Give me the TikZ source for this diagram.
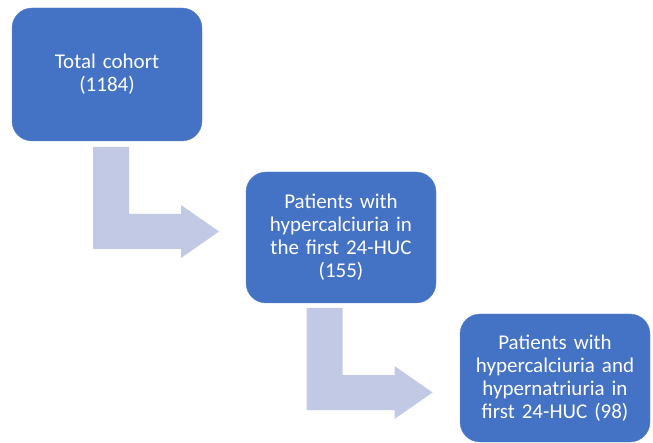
\documentclass[tikz,border=0pt]{standalone}
\usepackage{fontspec}
\setmainfont{Carlito}
\usepackage{tikz}
\usetikzlibrary{positioning}

\definecolor{boxblue}{RGB}{68,114,196}
\definecolor{arrowblue}{RGB}{193,201,229}

\tikzset{
    stagebox/.style={fill=boxblue, draw=boxblue!85!white, rounded corners=20pt,
        minimum width=190pt, text width=180pt, align=center, text=white,
        font=\fontsize{21}{23}\selectfont},
    bentarrow/.style={fill=arrowblue, draw=none}
}

\begin{document}
\begin{tikzpicture}[x=1pt, y=-1pt]
    \useasboundingbox (0, 0) rectangle (653, 443);

    % Stages
    \node[stagebox, minimum height=133pt] (total) at (107, 74.5)
        {Total cohort\\(1184)};
    \node[stagebox, minimum height=131pt] (hypercalc) at (341, 237.5)
        {Patients with\\hypercalciuria in\\the first 24-HUC\\(155)};
    \node[stagebox, minimum height=128pt] (hypernatr) at (555, 378)
        {Patients with\\hypercalciuria and\\hypernatriuria in\\first 24-HUC (98)};

    % Bent arrow between first two stages
    \fill[bentarrow] (93, 147) -- (129, 147) -- (129, 214) -- (181, 214)
        -- (181, 205) -- (219, 231.5) -- (181, 258) -- (181, 249)
        -- (93, 249) -- cycle;

    % Same arrow, shifted down to the last stage
    \begin{scope}[shift={(213.5, 161)}]
        \fill[bentarrow] (93, 147) -- (129, 147) -- (129, 214) -- (181, 214)
            -- (181, 205) -- (219, 231.5) -- (181, 258) -- (181, 249)
            -- (93, 249) -- cycle;
    \end{scope}
\end{tikzpicture}
\end{document}
